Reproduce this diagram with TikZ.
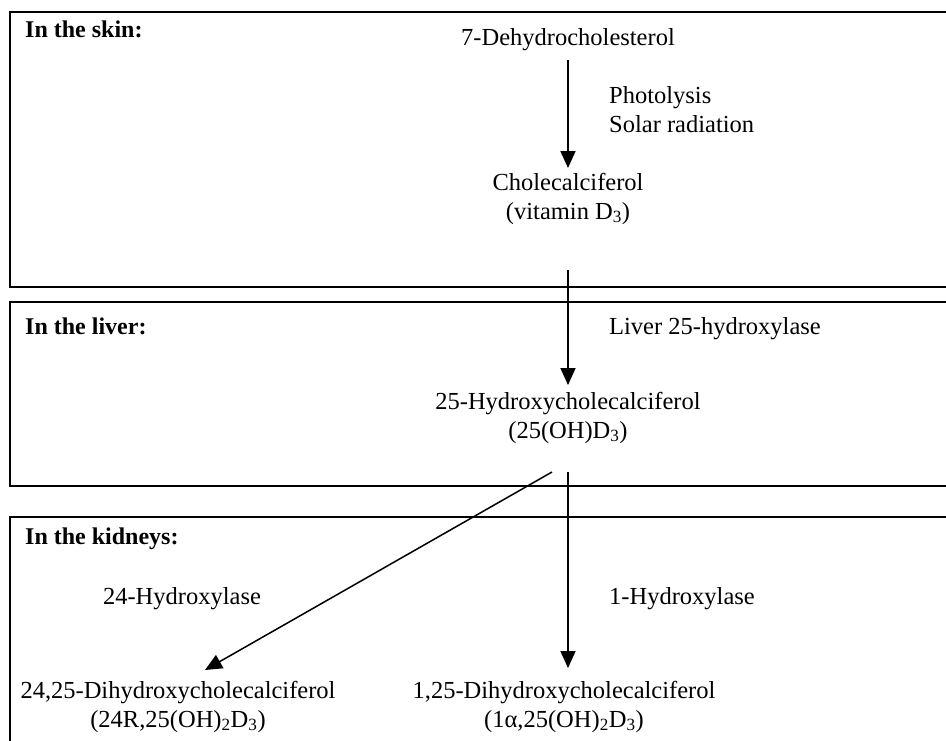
\documentclass[tikz,border=0pt]{standalone}
\usepackage{fontspec}
\setmainfont{Liberation Serif}
\usetikzlibrary{arrows.meta}
\begin{document}
\begin{tikzpicture}[x=1pt,y=-1pt,
  panel/.style={line width=1.8pt},
  txt/.style={inner sep=0pt, anchor=base, font=\fontsize{24.5}{29}\selectfont},
  heading/.style={txt, anchor=base west, font=\fontsize{24}{29}\selectfont\bfseries},
  cmpd/.style={txt, align=center},
  enz/.style={txt, anchor=base west, align=left},
  flow/.style={line width=1.8pt, -{Triangle[width=15pt,length=17pt]}},
  sideflow/.style={line width=1.5pt, -{Triangle[width=15pt,length=17pt]}}]
\useasboundingbox (0,0) rectangle (946,740);

% compartments, open on the right
\draw[panel] (946,12) -- (10,12) -- (10,287) -- (946,287);
\draw[panel] (946,302) -- (10,302) -- (10,486) -- (946,486);
\draw[panel] (946,517) -- (10,517) -- (10,742);

% headings
\node[heading] (skin)    at (25,37)  {In the skin:};
\node[heading] (liver)   at (25,334) {In the liver:};
\node[heading] (kidneys) at (25,544) {In the kidneys:};

% compounds (base anchor = baseline of the last line)
\node[cmpd] (dehydro) at (568,45)  {7-Dehydrocholesterol};
\node[cmpd] (chol)    at (568,219) {Cholecalciferol\\(vitamin D\textsubscript{3})};
\node[cmpd] (hyd)     at (568,438) {25-Hydroxycholecalciferol\\(25(OH)D\textsubscript{3})};
\node[cmpd] (d24)     at (178,727) {24,25-Dihydroxycholecalciferol\\(24R,25(OH)\textsubscript{2}D\textsubscript{3})};
\node[cmpd] (d1)      at (564,727) {1,25-Dihydroxycholecalciferol\\(1α,25(OH)\textsubscript{2}D\textsubscript{3})};

% enzymes and conditions
\node[enz] (photo)  at (609,132) {Photolysis\\Solar radiation};
\node[enz] (lhyd)   at (609,334) {Liver 25-hydroxylase};
\node[txt] (h24)    at (182,604) {24-Hydroxylase};
\node[enz] (h1)     at (609,604) {1-Hydroxylase};

% conversions
\draw[flow] ([shift={(0,15)}]dehydro.base) -- ([shift={(0,-51)}]chol.base);
\draw[flow] ([shift={(0,51)}]chol.base) -- ([shift={(0,-53)}]hyd.base);
\draw[flow] ([shift={(0,34)}]hyd.base) -- ([shift={(4,-59)}]d1.base);
\draw[sideflow] ([shift={(-16,34)}]hyd.base) -- ([shift={(27,-57)}]d24.base);
\end{tikzpicture}
\end{document}
